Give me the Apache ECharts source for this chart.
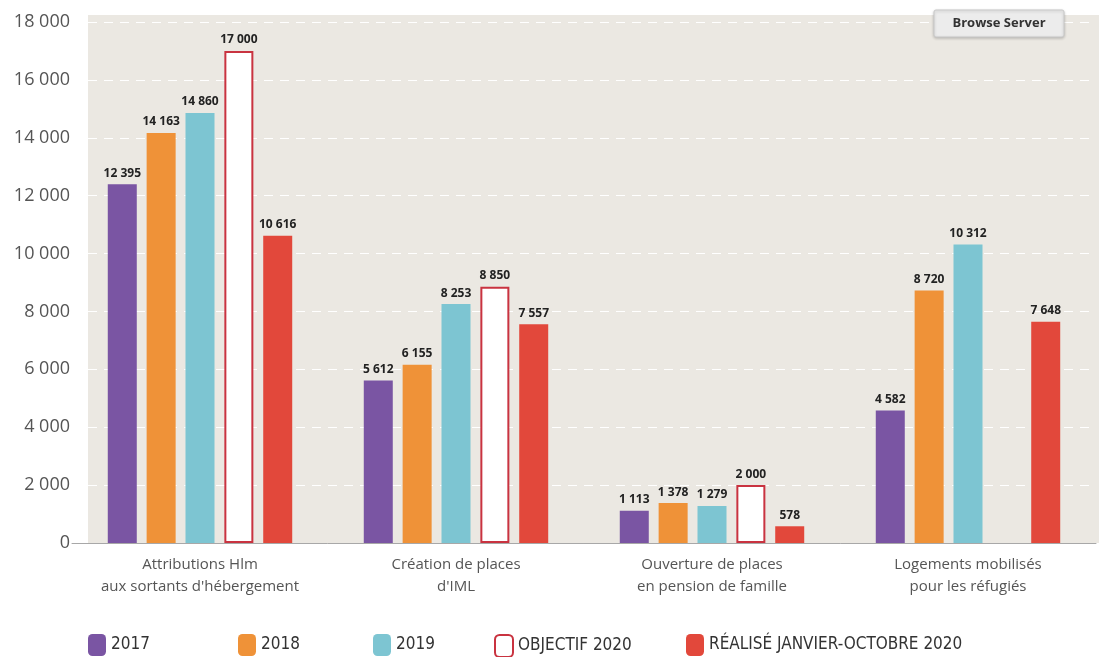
<!DOCTYPE html>
<html><head><meta charset="utf-8">
<script src="https://cdn.jsdelivr.net/npm/echarts@6/dist/echarts.min.js"></script>
<style>html,body{margin:0;padding:0;background:#fff}#c{width:1099px;height:657px}</style>
</head><body><div id="c"></div>
<script>
const categories = ["Attributions Hlm\naux sortants d'hébergement", "Création de places\nd'IML", "Ouverture de places\nen pension de famille", "Logements mobilisés\npour les réfugiés"];
const v2017 = [12395, 5612, 1113, 4582];
const v2018 = [14163, 6155, 1378, 8720];
const v2019 = [14860, 8253, 1279, 10312];
const objectif2020 = [17000, 8850, 2000, null];
const realise2020 = [10616, 7557, 578, 7648];
const seriesNames = ["2017", "2018", "2019", "OBJECTIF 2020", "RÉALISÉ JANVIER-OCTOBRE 2020"];
const yTicks = { min: 0, max: 18000, interval: 2000 };

const fmt = v => String(v).replace(/\B(?=(\d{3})+(?!\d))/g, ' ');
const font = "'Open Sans', 'Noto Sans', sans-serif";
const labelStyle = { show: true, position: 'top', distance: 5, color: '#222', fontWeight: 'bold', fontSize: 12, fontFamily: font, formatter: p => fmt(p.value) };

function bar(name, data, style) {
  return { name, type: 'bar', data, barWidth: 29, barGap: '34%', itemStyle: style, label: labelStyle, z: 2 };
}
const legendLefts = [88, 238, 373, 494, 686];
const chart = echarts.init(document.getElementById('c'));
chart.setOption({
  animation: false,
  textStyle: { fontFamily: font },
  grid: { left: 72, width: 1024, top: 22, bottom: 114, containLabel: false },
  graphic: [
    { type: 'rect', z: -100, silent: true, shape: { x: 88, y: 15, width: 1011, height: 528 }, style: { fill: '#EBE8E2' } },
    { type: 'rect', z: 100, shape: { x: 934, y: 10, width: 130, height: 27, r: 2 }, style: { fill: '#ECECEC', stroke: '#C8C8C8', lineWidth: 1, shadowBlur: 3, shadowColor: 'rgba(0,0,0,0.2)', shadowOffsetY: 1 } },
    { type: 'text', z: 101, style: { x: 999, y: 23.5, text: 'Browse Server', align: 'center', verticalAlign: 'middle', fill: '#333', font: "bold 13px 'Open Sans', sans-serif" } }
  ],
  legend: seriesNames.map((n, i) => ({
    data: [n], left: legendLefts[i], top: 634, padding: 0, itemWidth: 18, itemHeight: 22, itemGap: 8,
    textStyle: { fontSize: 17, color: '#333', fontFamily: "'Liberation Sans Narrow', 'DejaVu Sans Condensed', 'Open Sans', sans-serif" }
  })),
  xAxis: {
    type: 'category', data: categories,
    axisLine: { show: true, lineStyle: { color: '#A8A8A8', width: 1 } },
    axisTick: { show: false },
    axisLabel: { interval: 0, color: '#555', fontSize: 15, lineHeight: 22, margin: 11, fontFamily: font }
  },
  yAxis: {
    type: 'value', min: yTicks.min, max: yTicks.max, interval: yTicks.interval,
    axisLine: { show: false }, axisTick: { show: false },
    axisLabel: { color: '#555', fontSize: 18, margin: 2, fontFamily: font, formatter: v => fmt(v) },
    splitLine: { show: true, lineStyle: { color: '#FFFFFF', type: [9, 7], width: 1 } }
  },
  series: [
    bar(seriesNames[0], v2017, { color: '#7A55A3' }),
    bar(seriesNames[1], v2018, { color: '#EF9238' }),
    bar(seriesNames[2], v2019, { color: '#7DC5D2' }),
    bar(seriesNames[3], objectif2020, { color: '#FFFFFF', borderColor: '#C93340', borderWidth: 2 }),
    bar(seriesNames[4], realise2020, { color: '#E2483B' })
  ]
});
</script></body></html>
